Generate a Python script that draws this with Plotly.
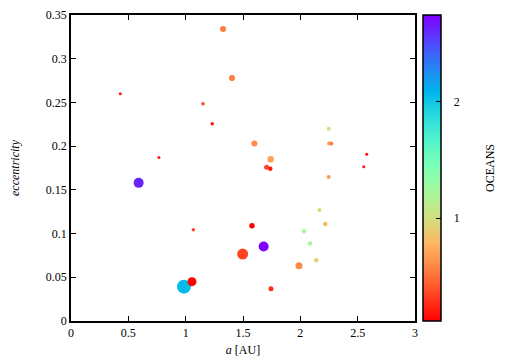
import numpy as np
import plotly.graph_objects as go

# semi-major axis [AU], eccentricity, oceans, marker size
a_au = [1.326, 1.404, 0.43, 1.151, 1.232, 0.767, 1.599, 1.741, 1.706, 1.738,
        2.247, 2.25, 2.27, 2.579, 2.553, 2.247, 2.166, 2.218, 1.578, 2.032,
        2.084, 1.680, 1.497, 2.139, 1.988, 1.744, 0.590, 1.067, 0.985, 1.055]
ecc = [0.334, 0.278, 0.260, 0.2485, 0.2257, 0.187, 0.203, 0.185, 0.176, 0.174,
       0.220, 0.203, 0.203, 0.1906, 0.1763, 0.1648, 0.127, 0.111, 0.109, 0.1027,
       0.0887, 0.0853, 0.0765, 0.0696, 0.0632, 0.037, 0.158, 0.1043, 0.0393, 0.045]
oceans = [0.55, 0.55, 0.2, 0.35, 0.2, 0.2, 0.6, 0.7, 0.35, 0.2,
          1.0, 0.7, 0.55, 0.15, 0.2, 0.65, 0.98, 0.8, 0.12, 1.25,
          1.2, 2.74, 0.35, 0.92, 0.6, 0.28, 2.62, 0.35, 2.05, 0.12]
msize = [6, 6, 3, 3.5, 3.5, 3, 6, 6.5, 5, 4.5,
         4, 4, 4, 3, 3, 4, 4, 4.5, 5.5, 4.5,
         4.5, 10, 11, 4.5, 7, 5, 10, 3.5, 14, 9]
cbar_ticks = [1, 2]

# gnuplot-like rainbow palette (rgbformulae 33,13,10), reversed: red -> purple
stops = np.linspace(0, 1, 21)
colorscale = []
for t in stops:
    x = 1 - t
    r = abs(2 * x - 0.5)
    g = np.sin(np.pi * x)
    b = np.cos(np.pi * x / 2)
    colorscale.append([float(t), "rgb(%d,%d,%d)" % (min(r, 1) * 255, max(g, 0) * 255, max(b, 0) * 255)])

font = dict(family="Liberation Serif, DejaVu Serif, serif", size=12, color="black")

# page body has an 8px margin, so the figure is laid out 8px in from the window edge
W, H = 511, 355
left, right, top, bottom = 63, 104, 7, 42
plot_w = W - left - right

fig = go.Figure(go.Scatter(
    x=a_au, y=ecc, mode="markers",
    marker=dict(
        size=msize, color=oceans, colorscale=colorscale, cmin=0.12, cmax=2.74,
        line=dict(width=0), opacity=1,
        colorbar=dict(
            tickvals=cbar_ticks, ticktext=["\u00a0\u00a0\u00a0" + str(v) for v in cbar_ticks],
            ticks="inside", ticklen=5, tickwidth=1, tickcolor="black",
            tickfont=font, thickness=18, len=1, lenmode="fraction",
            x=1 + 8 / plot_w, xanchor="left", xpad=0, y=0.5, ypad=0,
            outlinecolor="black", outlinewidth=1.5,
        ),
    ),
    showlegend=False,
))

fig.add_annotation(text="OCEANS", x=(482 - left) / plot_w, y=0.5, xref="paper", yref="paper",
                   textangle=-90, showarrow=False, font=font, xanchor="center", yanchor="middle")

axis_common = dict(
    showgrid=False, zeroline=False, showline=True, linecolor="black", linewidth=1.5,
    mirror="ticks", ticks="inside", ticklen=5, tickwidth=1, tickcolor="black",
    tickfont=font, automargin=False,
)
fig.update_xaxes(range=[0, 3], dtick=0.5, title=dict(text="<i>a</i> [AU]", font=font, standoff=6),
                 **axis_common)
fig.update_yaxes(range=[0, 0.35], dtick=0.05, title=dict(text="<i>eccentricity</i>", font=font, standoff=26),
                 **axis_common)

fig.update_layout(
    width=W, height=H,
    margin=dict(l=left, r=right, t=top, b=bottom, autoexpand=False),
    paper_bgcolor="white", plot_bgcolor="white",
    font=font,
)

fig.write_html("out.html")
